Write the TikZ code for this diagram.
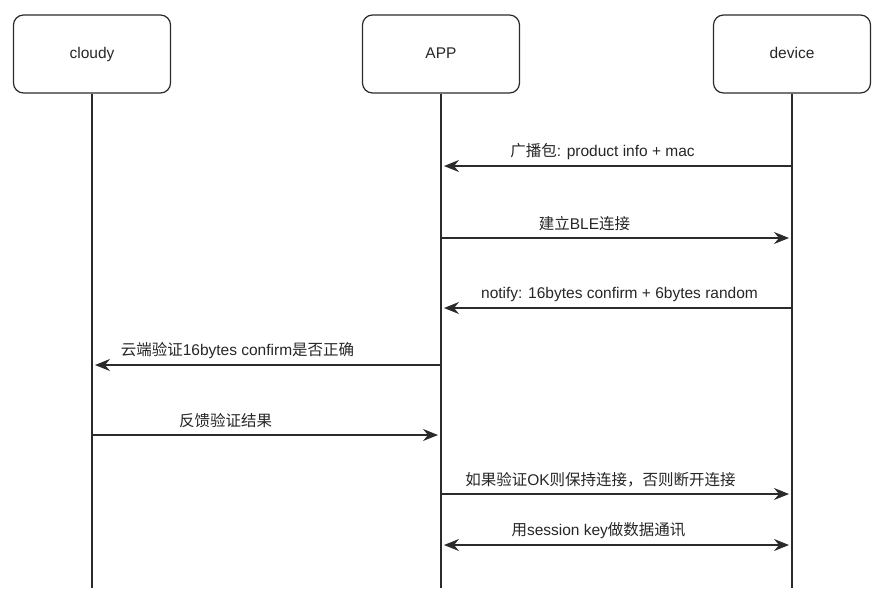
\documentclass[tikz,border=0pt]{standalone}
\usepackage{fontspec}
\setmainfont{Liberation Sans}
\newfontfamily\cjk{Noto Sans CJK SC}
\usepackage{tikz}
\usetikzlibrary{arrows.meta,positioning}

\definecolor{linegray}{HTML}{2B2B2B}
\definecolor{textgray}{HTML}{262626}

\tikzset{
	party/.style={draw=linegray, line width=1.2pt, rounded corners=10pt, minimum width=157pt, minimum height=78pt, text=textgray, font=\fontsize{15.5}{18}\selectfont, text height=11pt, text depth=3pt},
	life/.style={draw=linegray, line width=1.2pt},
	msg/.style={draw=linegray, line width=1.2pt, ->, shorten >=3pt},
	both/.style={msg, <->, shorten <=3pt},
	lbl/.style={text=textgray, font=\fontsize{15.5}{18}\selectfont, inner sep=0pt, yshift=14pt}
}

\begin{document}
\begin{tikzpicture}[x=1pt, y=-1pt, >={Stealth[length=15pt,width=12pt,inset=5pt]}]
	\useasboundingbox (0,0) rectangle (883,598);
	\node[party] (CLOUD) at (92,54)  {cloudy};
	\node[party] (APP)   at (441,54) {APP};
	\node[party] (DEV)   at (792,54) {device};

	% rows of the messages
	\coordinate (m1) at (0,166);
	\coordinate (m2) at (0,238);
	\coordinate (m3) at (0,308);
	\coordinate (m4) at (0,365);
	\coordinate (m5) at (0,435);
	\coordinate (m6) at (0,494);
	\coordinate (m7) at (0,545);
	\coordinate (bottom) at (0,588);

	% lifelines
	\draw[life] (CLOUD) -- (CLOUD |- bottom);
	\draw[life] (APP)   -- (APP |- bottom);
	\draw[life] (DEV)   -- (DEV |- bottom);

	\draw[msg] (DEV |- m1) -- node[lbl, xshift=-14pt] {{\cjk 广播包}: product info + mac} (APP |- m1);
	\draw[msg] (APP |- m2) -- node[lbl, xshift=-32pt] {{\cjk 建立}BLE{\cjk 连接}} (DEV |- m2);
	\draw[msg] (DEV |- m3) -- node[lbl, xshift=3pt] {notify: 16bytes confirm + 6bytes random} (APP |- m3);
	\draw[msg] (APP |- m4) -- node[lbl, xshift=-29pt] {{\cjk 云端验证}16bytes confirm{\cjk 是否正确}} (CLOUD |- m4);
	\draw[msg] (CLOUD |- m5) -- node[lbl, xshift=-41pt] {{\cjk 反馈验证结果}} (APP |- m5);
	\draw[msg] (APP |- m6) -- node[lbl, xshift=-16pt] {{\cjk 如果验证}OK{\cjk 则保持连接，否则断开连接}} (DEV |- m6);
	\draw[both] (APP |- m7) -- node[lbl, xshift=-18pt] {{\cjk 用}session key{\cjk 做数据通讯}} (DEV |- m7);
\end{tikzpicture}
\end{document}
